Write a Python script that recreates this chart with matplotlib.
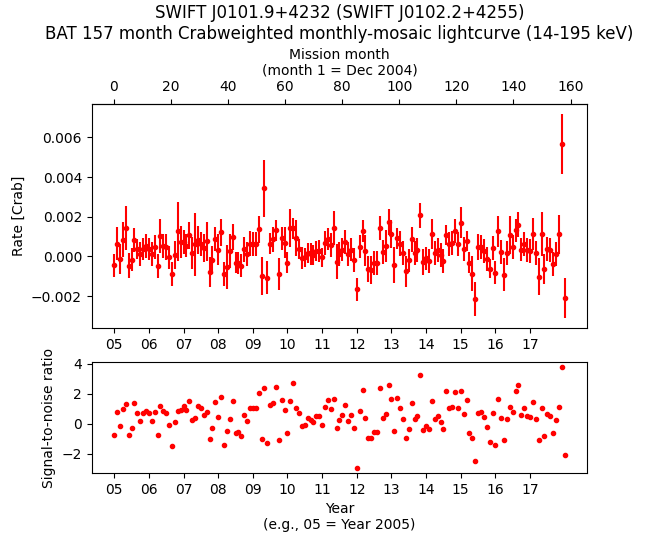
import matplotlib
matplotlib.use('Agg')
import matplotlib.pyplot as plt
import numpy as np

# mission month index of each bin (month 1 = Dec 2004)
month = np.arange(1, 158)

# rate in units of 1e-3 Crab
rate = np.array([
    -0.44, 0.65, -0.12, 0.85, 1.44, -0.48, -0.16, 0.83, 0.36, 0.11,
    0.39, 0.52, 0.39, 0.11, 0.47, -0.46, 1.01, 0.52, 0.46, -0.05,
    -0.89, 0.08, 1.26, 0.73, 0.71, 0.55, 1.06, 0.19, 0.61, 0.83,
    0.62, 0.41, 0.76, -0.78, -0.19, 0.86, 0.35, 1.21, -0.88, -0.54,
    0.26, 0.98, -0.32, -0.31, -0.46, 0.36, 0.11, 0.64, 0.62, 0.62,
    1.37, -0.98, 3.43, -1.06, 0.64, 0.86, 1.32, -0.88, 0.92, 0.70,
    -0.32, 1.43, 1.41, 0.94, 0.36, -0.09, -0.05, 0.19, 0.13, 0.06,
    0.26, 0.28, -0.05, 0.67, 0.87, 0.59, 1.43, -0.26, 0.14, 0.35,
    0.74, 0.11, 0.35, -0.17, -1.66, 0.50, 1.28, 0.30, -0.62, -0.67,
    -0.34, -0.34, 1.43, 0.23, 0.51, 1.73, 1.15, -0.44, 0.91, 0.64,
    0.19, -0.75, -0.20, 0.86, 0.19, 0.31, 2.07, -0.27, -0.10, -0.22,
    1.15, 0.19, 0.31, 0.07, -0.22, 1.09, 0.62, 0.67, 1.27, 0.62,
    1.70, 0.38, 0.79, -0.32, -0.86, -2.14, 0.48, 0.47, 0.26, -0.13,
    -0.61, 0.43, -0.82, 1.26, 0.23, -0.92, 0.19, 1.07, 0.47, 1.31,
    1.60, 0.35, 0.62, 0.31, 0.26, 1.15, 0.19, -1.01, 1.14, -0.63,
    0.38, 0.31, -0.37, 0.14, 1.11, 5.67, -2.09,
]) * 1e-3

# 1-sigma errors in units of 1e-3 Crab
rate_err = np.array([
    0.58, 0.83, 0.75, 0.87, 1.10, 0.63, 0.58, 0.60, 0.50, 0.60,
    0.55, 0.60, 0.55, 0.60, 0.60, 0.60, 0.86, 0.60, 0.65, 0.60,
    0.60, 0.70, 1.50, 0.80, 0.60, 0.60, 0.70, 0.80, 1.60, 0.70,
    0.60, 0.70, 0.98, 0.76, 0.70, 0.60, 0.80, 0.68, 0.62, 1.10,
    0.85, 0.65, 0.52, 0.55, 0.56, 0.62, 0.60, 0.62, 0.60, 0.60,
    0.67, 0.96, 1.44, 0.82, 0.52, 0.62, 0.54, 0.81, 0.58, 0.77,
    0.52, 0.95, 0.52, 0.90, 0.50, 0.55, 0.50, 0.50, 0.55, 0.50,
    0.50, 0.55, 0.50, 0.60, 0.55, 0.60, 0.87, 0.90, 0.60, 0.60,
    0.60, 0.60, 0.60, 0.60, 0.56, 0.60, 0.57, 0.80, 0.65, 0.70,
    0.60, 0.60, 0.60, 0.60, 0.80, 0.67, 0.70, 0.90, 0.53, 0.62,
    0.60, 0.78, 0.56, 0.62, 0.60, 0.60, 0.64, 0.64, 0.60, 0.60,
    0.76, 0.60, 0.60, 0.60, 0.60, 0.50, 0.60, 0.60, 0.60, 0.60,
    0.78, 0.60, 0.50, 0.52, 0.90, 0.86, 0.67, 0.60, 0.60, 0.60,
    0.50, 0.60, 0.58, 0.77, 0.60, 0.84, 0.60, 0.96, 0.60, 0.60,
    0.62, 0.60, 0.60, 0.60, 0.60, 0.80, 0.60, 0.93, 1.10, 0.77,
    0.60, 0.60, 0.60, 0.60, 1.00, 1.50, 1.00,
]) * 1e-3

# signal-to-noise ratio
snr = np.array([
    -0.76, 0.78, -0.16, 0.98, 1.31, -0.76, -0.27, 1.38, 0.71, 0.18,
    0.71, 0.87, 0.71, 0.18, 0.78, -0.76, 1.18, 0.87, 0.71, -0.09,
    -1.49, 0.11, 0.84, 0.91, 1.18, 0.91, 1.51, 0.24, 0.38, 1.18,
    1.04, 0.58, 0.78, -1.02, -0.27, 1.44, 0.44, 1.78, -1.42, -0.49,
    0.31, 1.51, -0.62, -0.56, -0.82, 0.58, 0.18, 1.04, 1.04, 1.04,
    2.04, -1.02, 2.38, -1.29, 1.24, 1.38, 2.44, -1.09, 1.58, 0.91,
    -0.62, 1.51, 2.71, 1.04, 0.71, -0.16, -0.09, 0.38, 0.24, 0.11,
    0.51, 0.51, -0.09, 1.11, 1.58, 0.98, 1.64, -0.29, 0.24, 0.58,
    1.24, 0.18, 0.58, -0.29, -2.96, 0.84, 2.24, 0.38, -0.96, -0.96,
    -0.56, -0.56, 2.38, 0.38, 0.64, 2.58, 1.64, -0.49, 1.71, 1.04,
    0.31, -0.96, -0.36, 1.38, 0.31, 0.51, 3.24, -0.42, -0.16, -0.36,
    1.51, 0.31, 0.51, 0.11, -0.36, 2.18, 1.04, 1.11, 2.11, 1.04,
    2.18, 0.64, 1.58, -0.62, -0.96, -2.49, 0.71, 0.78, 0.44, -0.22,
    -1.22, 0.71, -1.42, 1.64, 0.38, -1.09, 0.31, 1.11, 0.78, 2.18,
    2.58, 0.58, 1.04, 0.51, 0.44, 1.44, 0.31, -1.09, 1.04, -0.82,
    0.64, 0.51, -0.62, 0.24, 1.11, 3.78, -2.09,
])

year_ticks = np.arange(2005, 2018)
year_labels = [f"{y % 100:02d}" for y in year_ticks]
snr_ticks = [-2, 0, 2, 4]


def year_to_month(y):
    return (y - 2004.983) * 12.135


def month_to_year(m):
    return m / 12.135 + 2004.983


# time of each bin in decimal years
t = 2005 + (month - 1) / 12.0

fig = plt.figure(figsize=(6.46, 5.43), dpi=100)
ax1 = fig.add_axes([0.142, 0.396, 0.767, 0.4125])
ax2 = fig.add_axes([0.142, 0.129, 0.767, 0.204])

ax1.errorbar(t, rate, yerr=rate_err, fmt='o', color='red', ms=3)
ax1.set_ylabel('Rate [Crab]')
ax1.set_xticks(year_ticks)
ax1.set_xticklabels(year_labels)

secax = ax1.secondary_xaxis('top', functions=(year_to_month, month_to_year))
secax.set_xlabel('Mission month\n(month 1 = Dec 2004)')

ax1.set_title('SWIFT J0101.9+4232 (SWIFT J0102.2+4255)\n'
              'BAT 157 month Crabweighted monthly-mosaic lightcurve (14-195 keV)')

ax2.plot(t, snr, 'o', color='red', ms=3)
ax2.set_xlim(ax1.get_xlim())
ax2.set_xticks(year_ticks)
ax2.set_xticklabels(year_labels)
ax2.set_yticks(snr_ticks)
ax2.set_ylabel('Signal-to-noise ratio')
ax2.set_xlabel('Year\n(e.g., 05 = Year 2005)')

fig.savefig('out.png', dpi=100)
